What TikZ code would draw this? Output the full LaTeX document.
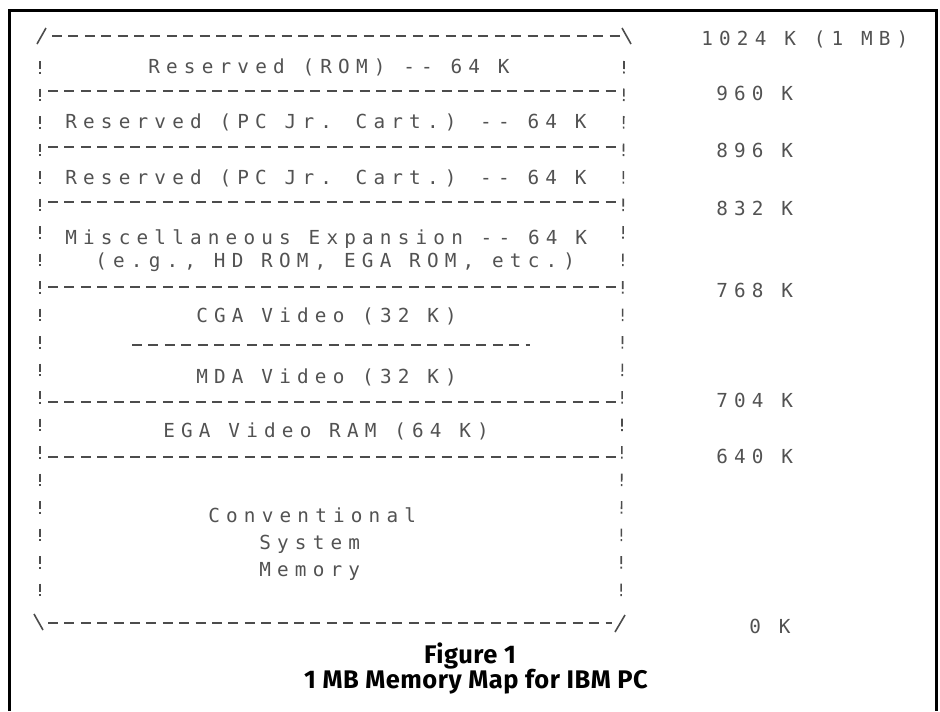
\documentclass[tikz,border=0pt]{standalone}
\usepackage{fontspec}
\usepackage{tikz}
\newfontfamily\dotfont{DejaVu Sans Mono}[LetterSpace=32]
\newfontfamily\capfont{Fira Sans}[LetterSpace=2]

\begin{document}
\begin{tikzpicture}[
    x=0.2mm, y=-0.2mm,
    dot/.style={font=\dotfont\fontsize{11}{13}\selectfont, text=black!68, inner sep=0pt, anchor=base west},
    captext/.style={font=\capfont\bfseries\fontsize{14.5}{16}\selectfont, inner sep=0pt, anchor=base},
    hrule/.style={draw=black!70, line width=0.32mm, dash pattern=on 2mm off 1.28mm},
    vrule/.style={draw=black!70, line width=0.32mm, dash pattern=on 1.6mm off 0.5mm on 0.4mm off 3mm},
    corner/.style={draw=black!70, line width=0.32mm},
    frame/.style={draw=black, line width=0.6mm}
]
\useasboundingbox (0,0) rectangle (940,711);
\draw[frame] (9,711) -- (9,10) -- (936,10) -- (936,711);

\draw[corner] (37,44) -- (46,28);
\draw[corner] (622,28) -- (631,44);
\draw[corner] (34,614) -- (43,630);
\draw[corner] (615,632) -- (625,615);
\draw[hrule] (52,36) -- (620,36);
\draw[hrule] (48,623) -- (612,623);
\draw[vrule] (40,61) -- (40,604);
\draw[vrule] (624,61) -- (621,604);
\foreach \y in {91,147,202,287,402,457}
    \draw[hrule] (48,\y) -- (618,\y);
\draw[hrule] (132,345) -- (530,345);

\node[dot] (rom)   at (148,73)  {Reserved (ROM) -- 64 K};
\node[dot] (jr1)   at (65,128)  {Reserved (PC Jr. Cart.) -- 64 K};
\node[dot] (jr2)   at (65,184)  {Reserved (PC Jr. Cart.) -- 64 K};
\node[dot] (misc)  at (65,244)  {Miscellaneous Expansion -- 64 K};
\node[dot] (eg)    at (95,267)  {(e.g., HD ROM, EGA ROM, etc.)};
\node[dot] (cga)   at (196,322) {CGA Video (32 K)};
\node[dot] (mda)   at (196,383) {MDA Video (32 K)};
\node[dot] (ega)   at (163,437) {EGA Video RAM (64 K)};
\node[dot] (conv)  at (208,522) {Conventional};
\node[dot] (sys)   at (259,549) {System};
\node[dot] (mem)   at (259,576) {Memory};

\node[dot] (k1024) at (701,45)  {1024 K (1 MB)};
\node[dot] (k960)  at (716,100) {960 K};
\node[dot] (k896)  at (716,157) {896 K};
\node[dot] (k832)  at (716,215) {832 K};
\node[dot] (k768)  at (716,297) {768 K};
\node[dot] (k704)  at (716,407) {704 K};
\node[dot] (k640)  at (716,463) {640 K};
\node[dot] (k0)    at (749,633) {0 K};

\node[captext] (fig)   at (470,663) {Figure 1};
\node[captext] (title) at (476,688) {1 MB Memory Map for IBM PC};
\end{tikzpicture}
\end{document}
